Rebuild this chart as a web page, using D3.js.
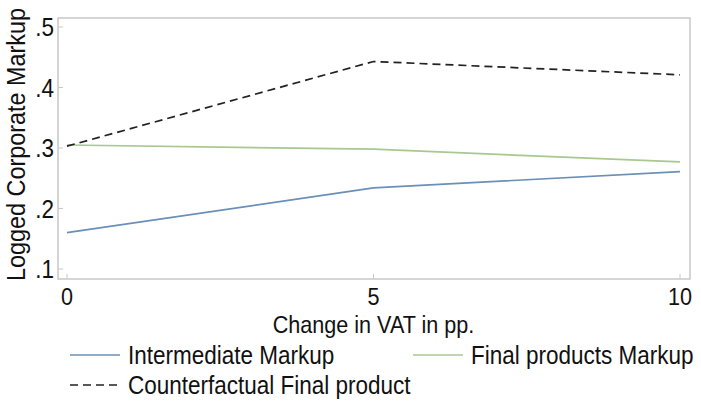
<!DOCTYPE html>
<html>
<head>
<meta charset="utf-8">
<script src="https://cdn.jsdelivr.net/npm/d3@7"></script>
<style>
  body { margin: 0; background: #fff; }
  text { font-family: "Liberation Sans", Arial, sans-serif; fill: #111; }
</style>
</head>
<body>
<div id="chart"></div>
<script>
// values
const vatChange = [0, 5, 10];
const intermediate = [0.160, 0.234, 0.261];
const finalProducts = [0.305, 0.298, 0.277];
const counterfactual = [0.303, 0.443, 0.421];
const yTicks = [0.1, 0.2, 0.3, 0.4, 0.5];

const width = 701, height = 402;
const frame = { left: 58, right: 690, top: 18, bottom: 279 };
const squeeze = 0.9; // the original lettering is a bit narrow

const svg = d3.select('#chart').append('svg')
  .attr('width', width)
  .attr('height', height);

const x = d3.scaleLinear().domain([0, 10]).range([67, 680]);
const y = d3.scaleLinear().domain([0.1, 0.5]).range([269, 27]);

// text helper: places narrow text at (tx, ty)
function label(sel, tx, ty, size, anchor) {
  return sel.append('text')
    .attr('transform', (d, i) => {
      const px = typeof tx === 'function' ? tx(d, i) : tx;
      const py = typeof ty === 'function' ? ty(d, i) : ty;
      return `translate(${px},${py}) scale(${squeeze},1)`;
    })
    .attr('text-anchor', anchor || 'start')
    .style('font-size', size + 'px');
}

// plot frame
svg.append('rect')
  .attr('x', frame.left).attr('y', frame.top)
  .attr('width', frame.right - frame.left)
  .attr('height', frame.bottom - frame.top)
  .attr('fill', 'none')
  .attr('stroke', '#c8c8c8')
  .attr('stroke-width', 1.5);

// y ticks (inward) + labels
const fmt = d => d3.format('.1f')(d).replace(/^0/, '');
svg.selectAll('.ytick').data(yTicks).enter().append('line')
  .attr('x1', frame.left).attr('x2', frame.left + 5)
  .attr('y1', d => y(d)).attr('y2', d => y(d))
  .attr('stroke', '#c8c8c8');
label(svg.selectAll('.ylab').data(yTicks).enter(), frame.left - 4, d => y(d) + 9, 25, 'end')
  .text(fmt);

// x ticks (inward) + labels
svg.selectAll('.xtick').data(vatChange).enter().append('line')
  .attr('x1', d => x(d)).attr('x2', d => x(d))
  .attr('y1', frame.bottom).attr('y2', frame.bottom - 5)
  .attr('stroke', '#c8c8c8');
label(svg.selectAll('.xlab').data(vatChange).enter(), d => x(d), 305, 24, 'middle')
  .text(d => d);

// axis titles
label(svg, x(5), 333, 24, 'middle').text('Change in VAT in pp.');
svg.append('text')
  .attr('transform', `translate(25,${(frame.top + frame.bottom) / 2 - 4}) rotate(-90) scale(${squeeze},1)`)
  .attr('text-anchor', 'middle')
  .style('font-size', '26px')
  .text('Logged Corporate Markup');

// lines
const line = d3.line().x((d, i) => x(vatChange[i])).y(d => y(d));
const series = [
  { name: 'Intermediate Markup', values: intermediate, color: '#6a8fb8', dash: null },
  { name: 'Final products Markup', values: finalProducts, color: '#a9c88f', dash: null },
  { name: 'Counterfactual Final product', values: counterfactual, color: '#222', dash: '8,5' }
];
svg.selectAll('.series').data(series).enter().append('path')
  .attr('d', d => line(d.values))
  .attr('fill', 'none')
  .attr('stroke', d => d.color)
  .attr('stroke-width', 1.7)
  .attr('stroke-dasharray', d => d.dash);

// legend
const legendPos = [[70, 355], [413, 355], [70, 385]];
const lg = svg.selectAll('.legend').data(series).enter().append('g')
  .attr('transform', (d, i) => `translate(${legendPos[i][0]},${legendPos[i][1]})`);
lg.append('line')
  .attr('x1', 0).attr('x2', 50)
  .attr('y1', 0).attr('y2', 0)
  .attr('stroke', d => d.color)
  .attr('stroke-width', 1.7)
  .attr('stroke-dasharray', d => d.dash);
label(lg, 58, 9, 25).text(d => d.name);
</script>
</body>
</html>
